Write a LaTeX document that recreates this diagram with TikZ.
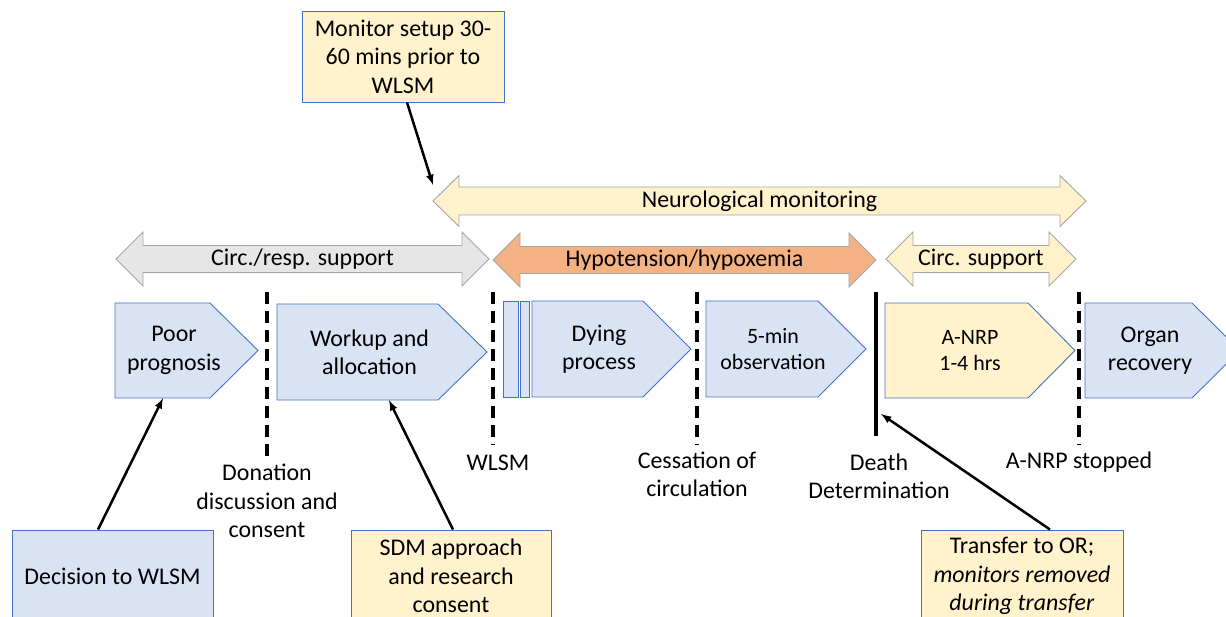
\documentclass[tikz,border=0pt]{standalone}
\usepackage{fontspec}
\setmainfont{Carlito}
\definecolor{boxblue}{RGB}{218,227,243}
\definecolor{lineblue}{RGB}{68,114,196}
\definecolor{boxyellow}{RGB}{255,242,204}
\definecolor{spangray}{RGB}{231,230,230}
\definecolor{spanorange}{RGB}{244,177,131}
\definecolor{edgegray}{RGB}{165,165,165}
\tikzset{
  stage/.style={draw=lineblue,fill=boxblue,line width=0.9bp},
  span/.style={draw=edgegray,line width=0.9bp},
  note/.style={draw=lineblue,line width=0.9bp,inner sep=0pt,align=center,
    font=\fontsize{24}{28.5}\selectfont},
  label/.style={align=center,inner sep=0pt,font=\fontsize{24}{28.5}\selectfont},
  markline/.style={line width=3.5bp,dash pattern=on 12bp off 7bp},
}
\begin{document}
\begin{tikzpicture}[>=latex,line join=miter,]
%%
\path [use as bounding box] (0bp,0bp) rectangle (1226bp,617bp);
\clip (0bp,0bp) rectangle (1226bp,617bp);
\draw [span,fill=boxyellow] (433bp,416bp) -- (459bp,441.5bp) -- (459bp,430bp) -- (1060bp,430bp) -- (1060bp,441.5bp) -- (1086bp,416bp) -- (1060bp,390.5bp) -- (1060bp,402bp) -- (459bp,402bp) -- (459bp,390.5bp) -- cycle;
  \draw [span,fill=spangray] (116bp,358bp) -- (143bp,385bp) -- (143bp,371.5bp) -- (462bp,371.5bp) -- (462bp,385bp) -- (489bp,358bp) -- (462bp,331bp) -- (462bp,344.5bp) -- (143bp,344.5bp) -- (143bp,331bp) -- cycle;
  \draw [span,fill=spanorange] (493bp,357bp) -- (520bp,384bp) -- (520bp,370.5bp) -- (849bp,370.5bp) -- (849bp,384bp) -- (876bp,357bp) -- (849bp,330bp) -- (849bp,343.5bp) -- (520bp,343.5bp) -- (520bp,330bp) -- cycle;
  \draw [span,fill=boxyellow] (886bp,358bp) -- (913bp,385bp) -- (913bp,371.5bp) -- (1049bp,371.5bp) -- (1049bp,385bp) -- (1076bp,358bp) -- (1049bp,331bp) -- (1049bp,344.5bp) -- (913bp,344.5bp) -- (913bp,331bp) -- cycle;
  \node (node_neuro) at (759.5bp,416bp) [label] {Neurological monitoring};
  \node (node_circresp) at (302.5bp,358bp) [label] {Circ./resp. support};
  \node (node_hypo) at (684.5bp,357bp) [label] {Hypotension/hypoxemia};
  \node (node_circ) at (981bp,358bp) [label] {Circ. support};
  \coordinate (neuro_tip) at (433bp,432bp);
%
\draw [stage] (115bp,314bp) -- (210bp,314bp) -- (258bp,266.5bp) -- (210bp,219bp) -- (115bp,219bp) -- cycle;
  \draw [stage] (277bp,313bp) -- (438bp,313bp) -- (487bp,265bp) -- (438bp,217bp) -- (277bp,217bp) -- cycle;
  \draw [stage] (503bp,220bp) rectangle (518bp,316bp);
  \draw [stage] (520bp,220bp) rectangle (529bp,316bp);
  \draw [stage] (532bp,316bp) -- (643bp,316bp) -- (691bp,268bp) -- (643bp,220bp) -- (532bp,220bp) -- cycle;
  \draw [stage] (706bp,316bp) -- (818bp,316bp) -- (866bp,268bp) -- (818bp,220bp) -- (706bp,220bp) -- cycle;
  \draw [stage,fill=boxyellow] (885bp,314bp) -- (1028bp,314bp) -- (1075bp,266.5bp) -- (1028bp,219bp) -- (885bp,219bp) -- cycle;
  \draw [stage] (1085bp,314bp) -- (1192bp,314bp) -- (1240bp,266.5bp) -- (1192bp,219bp) -- (1085bp,219bp) -- cycle;
  \node (node_poor) at (174bp,266.5bp) [label,minimum height=95bp] {Poor\\prognosis};
  \node (node_workup) at (369.5bp,265bp) [label,minimum height=96bp] {Workup and\\allocation};
  \node (node_dying) at (599bp,268bp) [label] {Dying\\process};
  \node (node_obs) at (773bp,268bp) [label,font=\fontsize{22}{26}\selectfont] {5-min\\observation};
  \node (node_anrp) at (970bp,266.5bp) [label,font=\fontsize{22}{26}\selectfont] {A-NRP\\1-4 hrs};
  \node (node_organ) at (1150bp,266.5bp) [label] {Organ\\recovery};
%
\draw [markline] (267bp,325bp) -- (267bp,160bp);
  \draw [markline] (493bp,325bp) -- (493bp,172bp);
  \draw [markline] (697bp,325bp) -- (697bp,172bp);
  \draw [line width=3.5bp] (876bp,325bp) -- (876bp,181bp);
  \draw [markline] (1079bp,325bp) -- (1079bp,172bp);
  \coordinate (death_pt) at (881bp,203bp);
%
\node (node_donation) at (267bp,116bp) [label] {Donation\\discussion and\\consent};
  \node (node_wlsm) at (498bp,154bp) [label] {WLSM};
  \node (node_cessation) at (697bp,142.5bp) [label] {Cessation of\\circulation};
  \node (node_death) at (879bp,141bp) [label] {Death\\Determination};
  \node (node_stopped) at (1079bp,155bp) [label] {A-NRP stopped};
%
\node (node_monitor) at (403bp,560.5bp) [note,fill=boxyellow,minimum width=202bp,minimum height=91bp] {Monitor setup 30-\\60 mins prior to\\WLSM};
  \node (node_decision) at (112.5bp,41bp) [note,fill=boxblue,minimum width=201bp,minimum height=92bp] {Decision to WLSM};
  \node (node_sdm) at (451bp,41bp) [note,fill=boxyellow,minimum width=200bp,minimum height=92bp] {SDM approach\\and research\\consent};
  \node (node_transfer) at (1022bp,41bp) [note,fill=boxyellow,minimum width=202bp,minimum height=92bp] {Transfer to OR;\\\textit{monitors removed}\\\textit{during transfer}};
%
\draw [black,->,line width=2.5bp] ([xshift=4bp]node_monitor.south) -- (neuro_tip);
  \draw [black,->,line width=2.5bp] ([xshift=-14.5bp]node_decision.north) -- ([xshift=-11bp]node_poor.south);
  \draw [black,->,line width=2.5bp] ([xshift=2bp]node_sdm.north) -- ([xshift=19.5bp]node_workup.south);
  \draw [black,->,line width=2.5bp] ([xshift=28bp]node_transfer.north) -- (death_pt);
%
\end{tikzpicture}
\end{document}
